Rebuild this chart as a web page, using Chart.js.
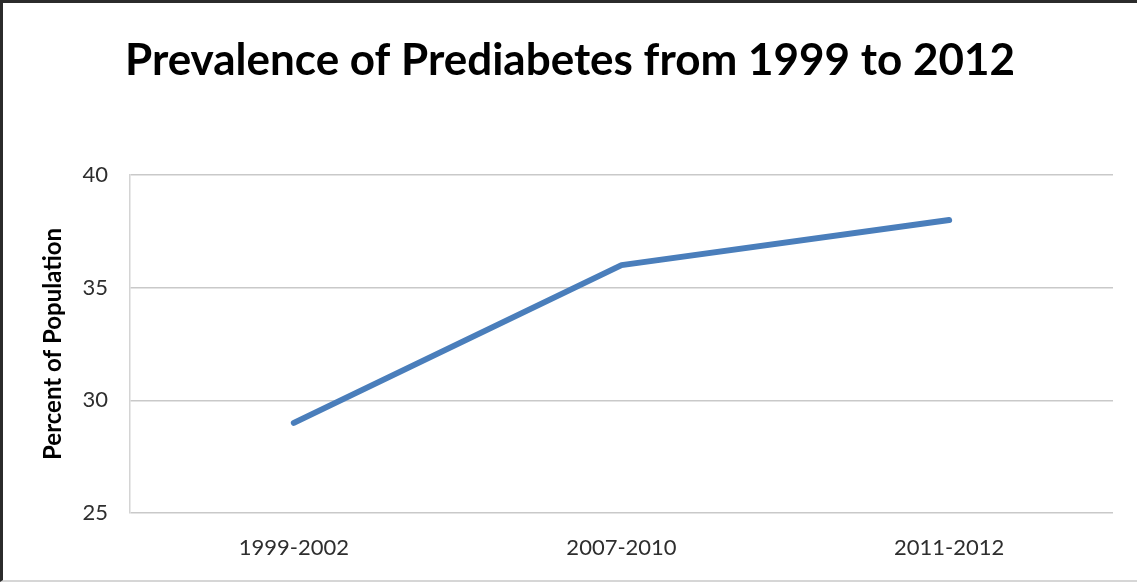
<!DOCTYPE html>
<html>
<head>
<meta charset="utf-8">
<script src="https://cdn.jsdelivr.net/npm/chart.js@4.4.1/dist/chart.umd.min.js"></script>
<style>
  html, body { margin: 0; padding: 0; background: #ffffff; }
  #frame {
    width: 1137px; height: 582px; box-sizing: border-box;
    border-top: 3px solid #2b2b2b;
    border-left: 3px solid #2b2b2b;
    border-bottom: 2px solid #d6d6d6;
    background: #ffffff;
  }
  #wrap { position: relative; width: 1134px; height: 577px; }
</style>
</head>
<body>
<div id="frame"><div id="wrap"><canvas id="chart"></canvas></div></div>
<script>
// Survey periods and the share of the population with prediabetes (%)
const periods = ['1999-2002', '2007-2010', '2011-2012'];
const prevalence = [29, 36, 38];
const yTicks = [25, 30, 35, 40];

const chartTitle = 'Prevalence of Prediabetes from 1999 to 2012';
const yAxisTitle = 'Percent of Population';

const tickFont = { family: 'Lato', size: 22 };

new Chart(document.getElementById('chart'), {
  type: 'line',
  data: {
    labels: periods,
    datasets: [{
      label: 'Prediabetes',
      data: prevalence,
      borderColor: '#4a7ebb',
      borderWidth: 6,
      borderCapStyle: 'round',
      borderJoinStyle: 'round',
      pointRadius: 0,
      pointHoverRadius: 0,
      tension: 0,
      fill: false
    }]
  },
  options: {
    responsive: true,
    maintainAspectRatio: false,
    animation: false,
    layout: { padding: 0 },
    plugins: {
      legend: { display: false },
      tooltip: { enabled: false },
      title: {
        display: true,
        text: chartTitle,
        color: '#000000',
        font: { family: 'Lato', size: 44, weight: 'bold' },
        padding: { top: 31.6, bottom: 87.6 }
      }
    },
    scales: {
      x: {
        offset: true,
        grid: { display: false, drawTicks: false },
        border: { display: false },
        ticks: { color: '#2e2e2e', font: tickFont, padding: 22, maxRotation: 0 },
        afterFit: (scale) => { scale.height = 67; }
      },
      y: {
        min: yTicks[0],
        max: yTicks[yTicks.length - 1],
        afterBuildTicks: (scale) => { scale.ticks = yTicks.map(v => ({ value: v })); },
        grid: { color: '#c9c9c9', lineWidth: 1.5, drawTicks: false },
        border: { display: true, color: '#d4d4d4', width: 1.5 },
        ticks: { color: '#2e2e2e', font: tickFont, padding: 22 },
        title: {
          display: true,
          text: yAxisTitle,
          color: '#000000',
          font: { family: 'Lato', size: 24, weight: 'bold' },
          padding: { top: 36, bottom: 0 }
        },
        afterFit: (scale) => { scale.width = 127; }
      },
      // empty right-hand margin beside the plot
      yRight: {
        position: 'right',
        min: yTicks[0],
        max: yTicks[yTicks.length - 1],
        grid: { display: false, drawTicks: false },
        border: { display: false },
        ticks: { display: false },
        afterFit: (scale) => { scale.width = 24; }
      }
    }
  }
});
</script>
</body>
</html>
